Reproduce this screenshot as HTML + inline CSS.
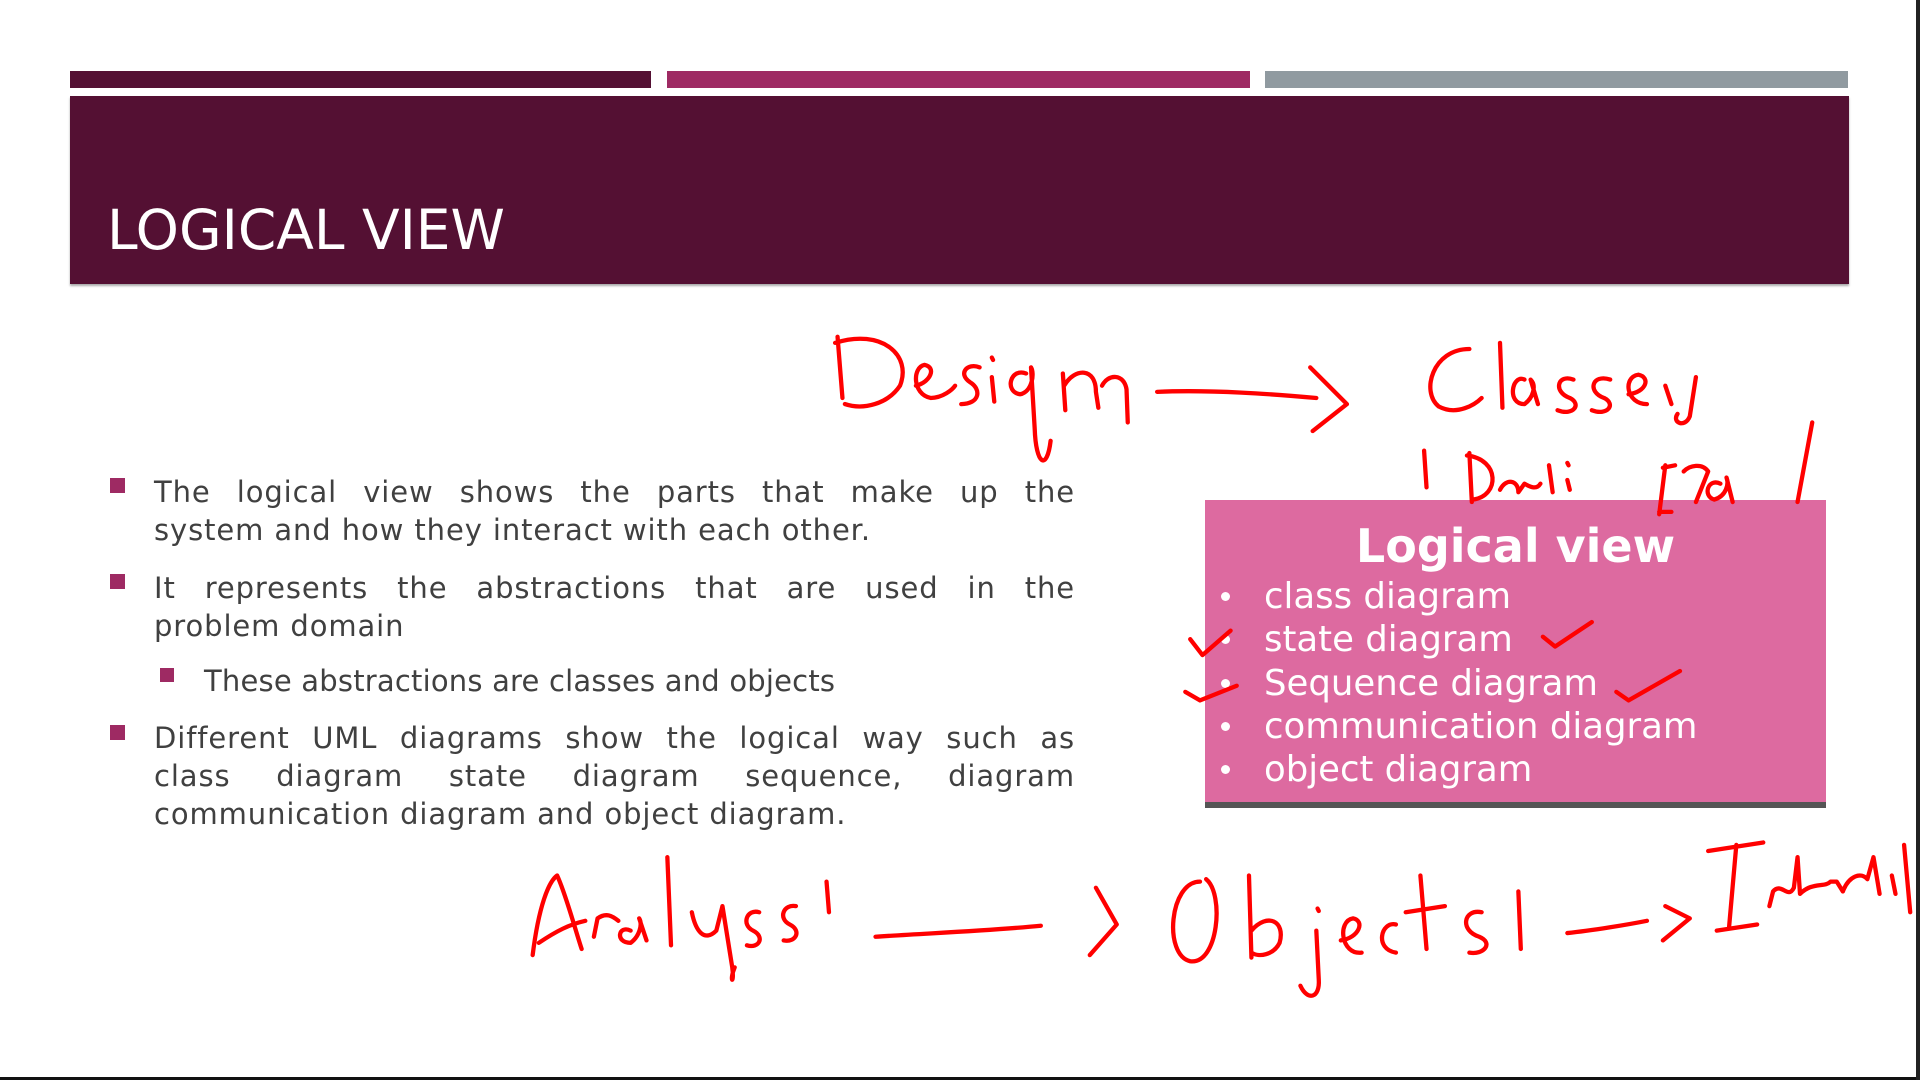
<!DOCTYPE html>
<html><head><meta charset="utf-8"><style>
html,body{margin:0;padding:0;width:1920px;height:1080px;overflow:hidden;background:#fff;position:relative;font-family:"DejaVu Sans","Liberation Sans",sans-serif}
.bar{position:absolute;top:71px;height:17px}
#hdr{position:absolute;left:70px;top:96px;width:1779px;height:188px;background:#541033;box-shadow:0 2px 2px #aaa}
#title{position:absolute;left:107px;top:198px;color:#fff;font-size:55px;line-height:64px;white-space:nowrap}
.p{position:absolute;left:154px;width:921px;color:#404040;font-size:29px;line-height:38px;text-align:justify;text-align-last:left;letter-spacing:0.9px}
.j{text-align-last:justify}
.sq{position:absolute;width:15px;height:15px;background:#9e2a63}
#box{position:absolute;left:1205px;top:500px;width:621px;height:302px;background:#dd6aa0;border-bottom:6px solid #555}
#box h2{margin:0;position:absolute;top:18px;width:100%;text-align:center;color:#fff;font-size:46px;font-weight:bold;line-height:56px}
.li{position:absolute;left:59px;color:#fff;font-size:35.5px;line-height:43px;white-space:nowrap}
.dot{position:absolute;left:16px;width:9px;height:9px;border-radius:50%;background:#fff}
</style></head><body>
<div class="bar" style="left:70px;width:581px;background:#541033"></div>
<div class="bar" style="left:667px;width:583px;background:#9e2a63"></div>
<div class="bar" style="left:1265px;width:583px;background:#909aa0"></div>
<div id="hdr"></div>
<div id="title">LOGICAL VIEW</div>

<div class="sq" style="left:110px;top:478px"></div>
<div class="p" style="top:473px"><div class="j">The logical view shows the parts that make up the</div>system and how they interact with each other.</div>
<div class="sq" style="left:110px;top:574px"></div>
<div class="p" style="top:569px"><div class="j">It represents the abstractions that are used in the</div>problem domain</div>
<div class="sq" style="left:160px;top:668px;width:14px;height:14px"></div>
<div class="p" style="top:662px;left:204px;width:800px;letter-spacing:0.2px">These abstractions are classes and objects</div>
<div class="sq" style="left:110px;top:725px"></div>
<div class="p" style="top:719px"><div class="j">Different UML diagrams show the logical way such as</div><div class="j">class diagram state diagram sequence, diagram</div>communication diagram and object diagram.</div>

<div id="box">
<h2>Logical view</h2>
<div class="dot" style="top:92px"></div><div class="li" style="top:75px">class diagram</div>
<div class="dot" style="top:135px"></div><div class="li" style="top:118px">state diagram</div>
<div class="dot" style="top:179px"></div><div class="li" style="top:162px">Sequence diagram</div>
<div class="dot" style="top:222px"></div><div class="li" style="top:205px">communication diagram</div>
<div class="dot" style="top:265px"></div><div class="li" style="top:248px">object diagram</div>
</div>

<svg style="position:absolute;left:0;top:0" width="1920" height="1080" viewBox="0 0 1568 882" fill="none" stroke="#f00" stroke-width="3.5" stroke-linecap="round" stroke-linejoin="round">
<path d="M684 275 L688 325 M682 280 C720 268 745 290 735 315 C725 330 705 335 690 330"/>
<path d="M748 315 C760 312 765 300 755 298 C745 300 745 322 760 325 C770 325 778 318 780 315"/>
<path d="M800 300 C790 296 782 305 792 312 C802 318 800 330 785 330"/>
<path d="M810 308 L812 328 M810 292 L811 294"/>
<path d="M838 305 C825 300 820 320 833 322 C843 320 845 305 842 300 L845 350 C846 380 855 385 858 360"/>
<path d="M868 305 L870 335 M869 315 C878 300 895 300 895 320 L897 333 M900 315 C905 305 918 305 920 318 L921 345"/>
<path d="M945 320 C990 318 1040 322 1075 325 M1070 300 L1100 330 L1072 352"/>
<path d="M1200 285 C1170 285 1160 320 1175 332 C1190 340 1205 330 1210 325"/>
<path d="M1225 280 L1227 333 M1245 310 C1235 305 1230 330 1245 330 C1252 325 1255 315 1250 310 L1256 330"/>
<path d="M1285 310 C1272 305 1268 320 1282 325 C1292 330 1285 340 1272 335 M1315 310 C1300 305 1296 320 1310 325 C1320 330 1313 340 1300 335"/>
<path d="M1330 322 C1345 320 1348 308 1338 306 C1325 308 1328 330 1345 330 M1360 315 L1365 330 M1385 308 L1380 340 C1376 350 1365 345 1370 338"/>
<path d="M1163 368 L1165 398 M1200 370 L1202 410 M1198 372 C1225 375 1225 405 1203 408"/>
<path d="M1225 400 C1230 390 1240 392 1240 402 L1245 395 C1250 398 1255 400 1258 395 M1265 380 L1268 402 M1280 392 L1282 400 M1280 378 L1281 380"/>
<path d="M1360 380 L1355 420 M1358 382 L1368 380 M1355 418 L1365 418 M1375 385 C1380 380 1390 378 1395 385 L1385 410 M1405 395 C1395 390 1390 405 1400 408 C1410 405 1412 395 1410 390 L1415 410 M1480 345 L1468 410"/>
<path d="M972 522 L982 535 L1005 515 M1260 520 L1270 528 L1300 508"/>
<path d="M968 565 L980 572 L1010 560 M1320 565 L1330 572 L1372 548"/>
<path d="M435 780 C440 740 448 720 455 715 C462 730 470 760 475 775 M440 770 C455 760 465 755 478 752"/>
<path d="M485 765 L488 750 C495 745 500 748 505 752 M515 760 C505 755 502 770 515 770 C522 765 525 755 522 750 L528 768"/>
<path d="M545 700 L548 772 M565 745 C568 760 575 770 585 760 L590 740 L598 790 C600 805 595 802 600 790"/>
<path d="M620 745 C610 742 605 755 615 760 C625 765 620 775 610 772 M650 740 C640 738 635 750 645 755 C655 760 650 770 640 768 M675 720 L677 745"/>
<path d="M715 765 C760 762 810 760 850 756 M895 725 L912 755 L890 780"/>
<path d="M980 720 C955 720 950 780 972 785 C995 788 1000 730 985 718"/>
<path d="M1020 715 L1022 782 M1022 760 C1035 745 1050 752 1045 770 C1040 780 1028 782 1022 778"/>
<path d="M1075 760 L1077 800 C1078 815 1068 818 1062 805 M1076 742 L1077 744"/>
<path d="M1095 768 C1110 766 1115 752 1105 750 C1092 752 1095 780 1112 778 M1140 755 C1128 752 1122 775 1140 778"/>
<path d="M1160 715 L1165 775 M1148 745 L1180 740 M1210 745 C1195 742 1192 760 1208 765 C1220 770 1212 780 1200 778 M1240 728 L1242 775"/>
<path d="M1280 762 C1300 760 1330 755 1345 752 M1360 740 L1380 750 L1358 768"/>
<path d="M1395 695 L1440 688 M1418 690 L1412 758 M1402 760 L1435 755"/>
<path d="M1445 740 L1448 728 C1455 720 1460 735 1465 725 L1468 700 L1470 730 C1480 720 1490 725 1495 720 L1500 720 L1505 728 C1510 715 1520 712 1525 718 L1530 700 L1535 730 M1545 715 L1548 730 M1555 690 L1560 745"/>
</svg>
<div style="position:absolute;left:0;top:1077px;width:1920px;height:3px;background:#111"></div>
<div style="position:absolute;left:1916px;top:0;width:4px;height:1080px;background:#222"></div>
</body></html>
